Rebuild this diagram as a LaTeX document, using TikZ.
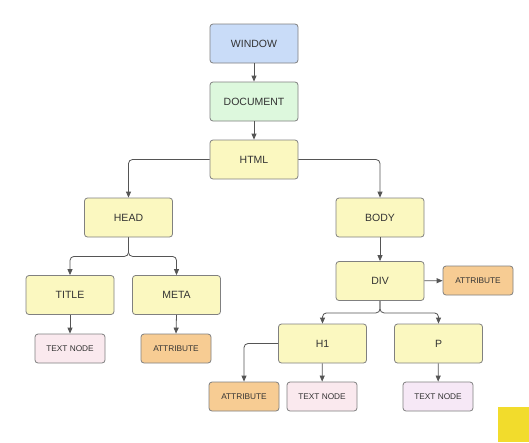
\documentclass[tikz,border=0pt]{standalone}
\usepackage{fontspec}
\setmainfont{Liberation Sans}
\usetikzlibrary{arrows.meta}
\definecolor{edgegray}{HTML}{808080}
\definecolor{linegray}{HTML}{555555}
\definecolor{txt}{HTML}{333333}
\definecolor{winblue}{HTML}{C9DCF8}
\definecolor{docgreen}{HTML}{DDF8DD}
\definecolor{elyellow}{HTML}{FBF8C0}
\definecolor{txtpink}{HTML}{FAE9EE}
\definecolor{txtlilac}{HTML}{F6E8F6}
\definecolor{attrorange}{HTML}{F7CC93}
\definecolor{markyellow}{HTML}{F2DC2C}
\tikzset{
  base/.style={draw=edgegray, line width=0.8pt, rounded corners=3pt, text=txt, align=center, inner sep=0pt},
  bigbox/.style={base, minimum width=88pt, minimum height=39pt, font=\fontsize{10.5}{12}\selectfont},
  smallbox/.style={base, minimum width=70pt, minimum height=29pt, font=\fontsize{8.3}{10}\selectfont},
  elem/.style={bigbox, fill=elyellow},
  textnode/.style={smallbox, fill=txtpink},
  attrnode/.style={smallbox, fill=attrorange},
  link/.style={draw=linegray, line width=0.8pt, rounded corners=4pt, -{Triangle[length=6pt, width=5pt]}},
}
\begin{document}
\begin{tikzpicture}[x=1pt, y=-1pt]
  \useasboundingbox[fill=white] (0,0) rectangle (529,442);

  % document object tree
  \node[bigbox, fill=winblue]  (window) at (254,43.5) {WINDOW};
  \node[bigbox, fill=docgreen] (doc)    at (254,101.5) {DOCUMENT};
  \node[elem] (html)  at (254,159.5) {HTML};
  \node[elem] (head)  at (128.5,217.5) {HEAD};
  \node[elem] (body)  at (380,217.5) {BODY};
  \node[elem] (title) at (70,295) {TITLE};
  \node[elem] (meta)  at (176.5,295) {META};
  \node[elem] (div)   at (380,281) {DIV};
  \node[elem] (h1)    at (322.5,343.5) {H1};
  \node[elem] (p)     at (438.5,343.5) {P};

  % leaves
  \node[textnode] (titletext) at (70,348.5) {TEXT NODE};
  \node[attrnode] (metaattr)  at (176,348.5) {ATTRIBUTE};
  \node[attrnode] (divattr)   at (478,280.5) {ATTRIBUTE};
  \node[attrnode] (h1attr)    at (244,396.5) {ATTRIBUTE};
  \node[textnode] (h1text)    at (322,396.5) {TEXT NODE};
  \node[textnode, fill=txtlilac] (ptext) at (438,396.5) {TEXT NODE};

  % connectors
  \draw[link] (window) -- (doc);
  \draw[link] (doc) -- (html);
  \draw[link] (html.west) -| (head.north);
  \draw[link] (html.east) -| (body.north);
  \draw[link] (head.south) -- ++(0,19) -| (title.north);
  \draw[link] (head.south) -- ++(0,19) -| (meta.north);
  \draw[link] (body) -- (div);
  \draw[link] (div) -- (divattr);
  \draw[link] (div.south) -- ++(0,12) -| (h1.north);
  \draw[link] (div.south) -- ++(0,12) -| (p.north);
  \draw[link] (h1.west) -| (h1attr.north);
  \draw[link] (h1) -- (h1text);
  \draw[link] (p) -- (ptext);
  \draw[link] (title) -- (titletext);
  \draw[link] (meta.south) -- (metaattr.north);

  % corner marker
  \fill[markyellow] (498,407) rectangle (529,442);
\end{tikzpicture}
\end{document}
